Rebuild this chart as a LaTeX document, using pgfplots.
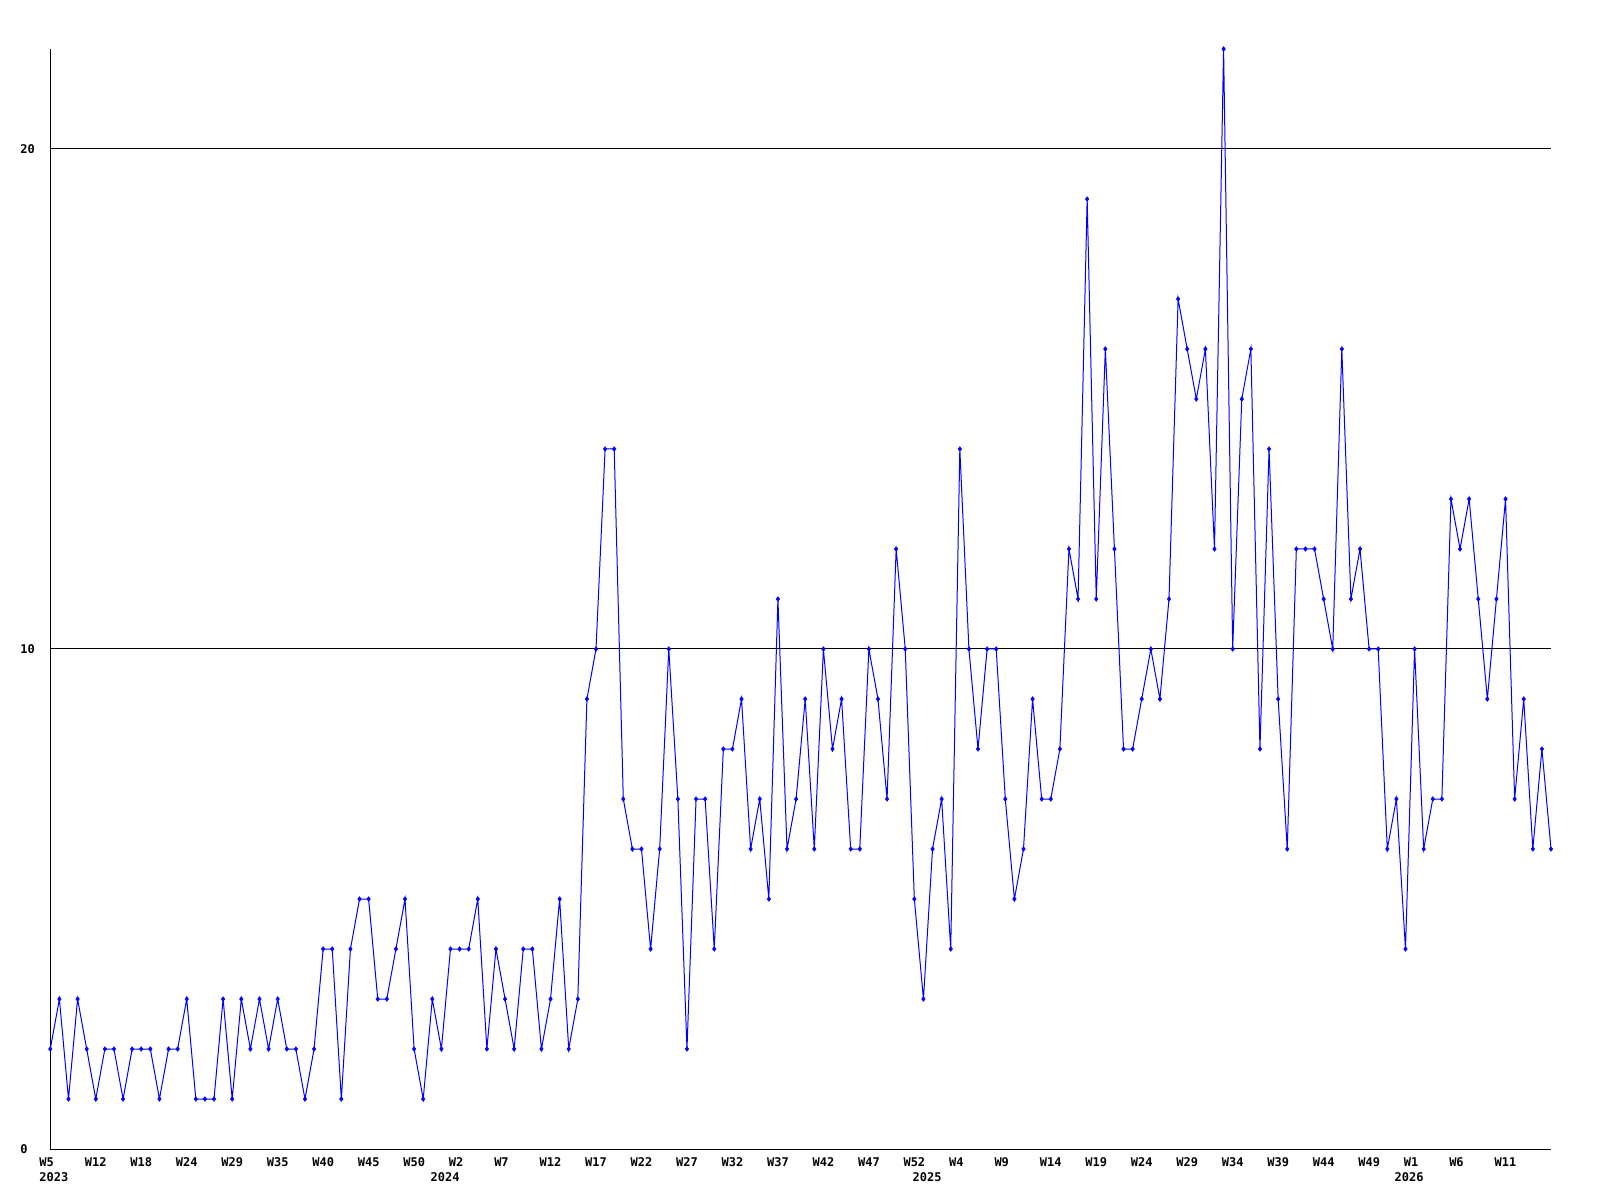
\documentclass[border=0pt]{standalone}
\usepackage{fontspec}
\setmainfont{DejaVu Sans Mono}
\usepackage{pgfplots}
\pgfplotsset{compat=1.18}
\begin{document}
\begin{tikzpicture}[x=1pt,y=1pt]
\path[fill=white] (0,0) rectangle (800,600);
\begin{axis}[
  at={(25.15pt,25.5pt)}, anchor=south west,
  scale only axis, width=750.35pt, height=550pt,
  xmin=0, xmax=165, ymin=0, ymax=22,
  axis lines*=left,
  axis line style={black, line width=0.5pt, -},
  major tick length=0pt,
  xtick={0,5,...,160},
  xticklabels={W5,W12,W18,W24,W29,W35,W40,W45,W50,W2,W7,W12,W17,W22,W27,W32,W37,W42,W47,W52,W4,W9,W14,W19,W24,W29,W34,W39,W44,W49,W1,W6,W11},
  extra x ticks={0,43,96,149},
  extra x tick labels={2023,2024,2025,2026},
  extra x tick style={grid=none, major tick length=0pt, xticklabel style={yshift=-7.15pt}},
  ytick={0,10,20},
  yticklabels={0,10,20},
  ymajorgrids=true,
  grid style={black, line width=0.5pt},
  tick label style={font=\fontsize{6}{7}\selectfont\bfseries, inner sep=0pt, text=black},
  xticklabel style={anchor=base west, xshift=-5.6pt, yshift=-8.85pt},
  yticklabel style={anchor=west, xshift=-15.15pt},
]
\addplot[color={rgb,255:red,0;green,0;blue,255}, line width=0.5pt, mark=diamond*, mark size=1.2pt,
  mark options={solid, fill={rgb,255:red,0;green,0;blue,255}, draw={rgb,255:red,0;green,0;blue,255}, line width=0.2pt}]
coordinates {
(0,2)(1,3)(2,1)(3,3)(4,2)(5,1)(6,2)(7,2)(8,1)(9,2)(10,2)(11,2)(12,1)(13,2)(14,2)(15,3)(16,1)(17,1)(18,1)(19,3)(20,1)(21,3)(22,2)(23,3)(24,2)(25,3)(26,2)(27,2)
(28,1)(29,2)(30,4)(31,4)(32,1)(33,4)(34,5)(35,5)(36,3)(37,3)(38,4)(39,5)(40,2)(41,1)(42,3)(43,2)(44,4)(45,4)(46,4)(47,5)(48,2)(49,4)(50,3)(51,2)(52,4)(53,4)(54,2)(55,3)
(56,5)(57,2)(58,3)(59,9)(60,10)(61,14)(62,14)(63,7)(64,6)(65,6)(66,4)(67,6)(68,10)(69,7)(70,2)(71,7)(72,7)(73,4)(74,8)(75,8)(76,9)(77,6)(78,7)(79,5)
(80,11)(81,6)(82,7)(83,9)(84,6)(85,10)(86,8)(87,9)(88,6)(89,6)(90,10)(91,9)(92,7)(93,12)(94,10)(95,5)(96,3)(97,6)(98,7)(99,4)(100,14)(101,10)(102,8)(103,10)
(104,10)(105,7)(106,5)(107,6)(108,9)(109,7)(110,7)(111,8)(112,12)(113,11)(114,19)(115,11)(116,16)(117,12)(118,8)(119,8)(120,9)(121,10)(122,9)(123,11)(124,17)(125,16)
(126,15)(127,16)(128,12)(129,22)(130,10)(131,15)(132,16)(133,8)(134,14)(135,9)(136,6)(137,12)(138,12)(139,12)(140,11)(141,10)(142,16)(143,11)(144,12)(145,10)(146,10)(147,6)
(148,7)(149,4)(150,10)(151,6)(152,7)(153,7)(154,13)(155,12)(156,13)(157,11)(158,9)(159,11)(160,13)(161,7)(162,9)(163,6)(164,8)(165,6)
};
\end{axis}
\end{tikzpicture}
\end{document}
